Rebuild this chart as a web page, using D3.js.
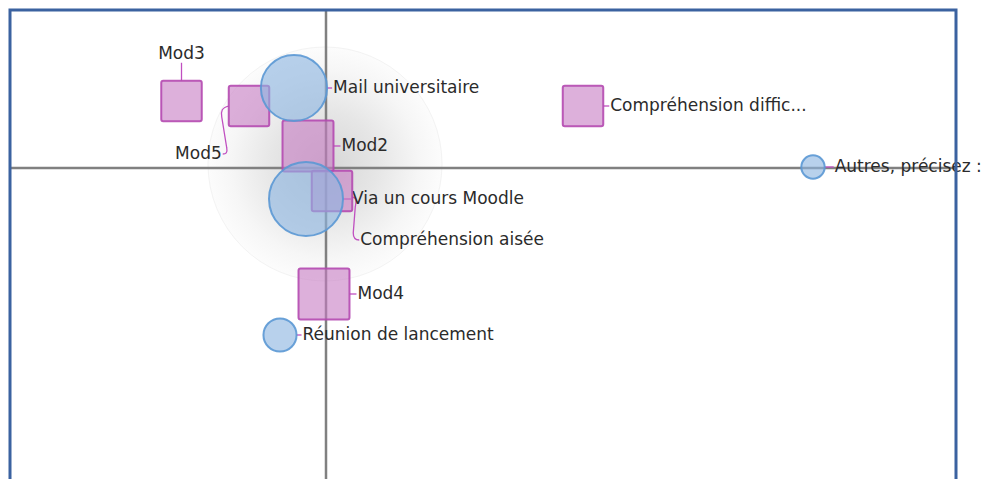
<!DOCTYPE html>
<html>
<head>
<meta charset="utf-8">
<script src="https://cdn.jsdelivr.net/npm/d3@7"></script>
<style>
  html, body { margin: 0; padding: 0; background: #ffffff; }
  svg { display: block; }
</style>
</head>
<body>
<svg id="chart" width="984" height="479"></svg>
<script>
// ---------- DATA ----------
// Row points (channels) drawn as circles
const rowLabels  = ["Mail universitaire", "Via un cours Moodle", "Réunion de lancement", "Autres, précisez :"];
const rowX       = [-0.16, -0.10, -0.23, 2.435];
const rowY       = [0.40, -0.155, -0.835, 0.005];
const rowWeights = [16, 20, 4, 2];

// Column points (modules / comprehension) drawn as squares
const colLabels  = ["Mod3", "Mod5", "Mod2", "Compréhension aisée", "Mod4", "Compréhension diffic..."];
const colX       = [-0.7225, -0.385, -0.09, 0.03, -0.01, 1.285];
const colY       = [0.335, 0.31, 0.11, -0.115, -0.63, 0.31];
const colWeights = [12, 12, 19, 12, 19, 12];

// Axis domains (factor units)
const xDomain = [-1.58, 3.15];
const yDomain = [-1.555, 0.79];

// ---------- LAYOUT / STYLE ----------
const W = 984, H = 479;
const plot = { left: 10, top: 10, right: 956, bottom: 479 };
const fontFamily = "'DejaVu Sans', Verdana, sans-serif";
const fontSize = 17;
const labelColor = "#2b2b2b";
const linkColor = "#c04fc0";

// label placement per label (layout, not data)
const placement = {
  "Mail universitaire": { side: "right", gap: 6 },
  "Via un cours Moodle": { side: "right", gap: 9 },
  "Réunion de lancement": { side: "right", gap: 6 },
  "Autres, précisez :": { side: "right", gap: 10 },
  "Mod3": { side: "top", gap: 18 },
  "Mod5": { side: "belowLeft" },
  "Mod2": { side: "right", gap: 8 },
  "Compréhension aisée": { side: "belowRight" },
  "Mod4": { side: "right", gap: 8 },
  "Compréhension diffic...": { side: "right", gap: 7 }
};

const svg = d3.select("#chart");

const x = d3.scaleLinear().domain(xDomain).range([plot.left, plot.right]);
const y = d3.scaleLinear().domain(yDomain).range([plot.bottom, plot.top]);
const rScale = d3.scaleSqrt().domain([0, 20]).range([0, 37]);
const sScale = d3.scaleSqrt().domain([0, 12]).range([0, 40.5]);

const rows = rowLabels.map((l, i) => ({ label: l, cx: x(rowX[i]), cy: y(rowY[i]), r: rScale(rowWeights[i]), kind: "row" }));
const cols = colLabels.map((l, i) => ({ label: l, cx: x(colX[i]), cy: y(colY[i]), s: sScale(colWeights[i]), kind: "col" }));

// ---------- BACKGROUND GLOW ----------
const defs = svg.append("defs");
const grad = defs.append("radialGradient").attr("id", "glow");
grad.append("stop").attr("offset", "0%").attr("stop-color", "#d6d6d6");
grad.append("stop").attr("offset", "45%").attr("stop-color", "#e6e6e6");
grad.append("stop").attr("offset", "80%").attr("stop-color", "#f6f6f6");
grad.append("stop").attr("offset", "100%").attr("stop-color", "#fcfcfc");

svg.append("circle")
  .attr("cx", x(0) - 1).attr("cy", y(0) - 4)
  .attr("r", 117)
  .attr("fill", "url(#glow)")
  .attr("stroke", "#f3f3f3")
  .attr("stroke-width", 1);

// ---------- AXES (origin lines) ----------
svg.append("line")
  .attr("x1", plot.left).attr("x2", plot.right)
  .attr("y1", y(0)).attr("y2", y(0))
  .attr("stroke", "#808080").attr("stroke-width", 2.5);
svg.append("line")
  .attr("x1", x(0)).attr("x2", x(0))
  .attr("y1", plot.top).attr("y2", plot.bottom)
  .attr("stroke", "#808080").attr("stroke-width", 2.5);

// ---------- CONNECTORS + LABELS ----------
const linkG = svg.append("g");
const labelG = svg.append("g")
  .attr("font-family", fontFamily)
  .attr("font-size", fontSize)
  .attr("fill", labelColor);

function half(d) { return d.kind === "row" ? d.r : d.s / 2; }

[...rows, ...cols].forEach(d => {
  const p = placement[d.label];
  const h = half(d);
  if (p.side === "right") {
    const x0 = d.cx + h;
    linkG.append("line")
      .attr("x1", x0).attr("x2", x0 + p.gap - 1)
      .attr("y1", d.cy).attr("y2", d.cy)
      .attr("stroke", linkColor).attr("stroke-width", 1.3);
    labelG.append("text")
      .attr("x", x0 + p.gap).attr("y", d.cy)
      .attr("dominant-baseline", "middle")
      .text(d.label);
  } else if (p.side === "top") {
    const y0 = d.cy - h;
    linkG.append("line")
      .attr("x1", d.cx).attr("x2", d.cx)
      .attr("y1", y0).attr("y2", y0 - p.gap)
      .attr("stroke", linkColor).attr("stroke-width", 1.3);
    labelG.append("text")
      .attr("x", d.cx).attr("y", y0 - p.gap - 9)
      .attr("text-anchor", "middle")
      .attr("dominant-baseline", "middle")
      .text(d.label);
  } else if (p.side === "belowLeft") {
    const x0 = d.cx - h, y0 = d.cy;
    const path = d3.path();
    path.moveTo(x0, y0);
    path.bezierCurveTo(x0 - 7, y0 + 2, x0 - 8, y0 + 5, x0 - 7, y0 + 11);
    path.lineTo(x0 - 2, y0 + 42);
    path.bezierCurveTo(x0 - 1, y0 + 47, x0 - 3, y0 + 48, x0 - 6, y0 + 48);
    linkG.append("path").attr("d", path.toString())
      .attr("fill", "none").attr("stroke", linkColor).attr("stroke-width", 1.3);
    labelG.append("text")
      .attr("x", x0 - 7).attr("y", y0 + 48)
      .attr("text-anchor", "end")
      .attr("dominant-baseline", "middle")
      .text(d.label);
  } else if (p.side === "belowRight") {
    const x0 = d.cx + h, y0 = d.cy + 6;
    const path = d3.path();
    path.moveTo(x0, y0);
    path.bezierCurveTo(x0 + 5, y0 + 1, x0 + 4, y0 + 4, x0 + 3, y0 + 10);
    path.lineTo(x0 + 1, y0 + 36);
    path.bezierCurveTo(x0 + 1, y0 + 41, x0 + 4, y0 + 43, x0 + 7, y0 + 43);
    linkG.append("path").attr("d", path.toString())
      .attr("fill", "none").attr("stroke", linkColor).attr("stroke-width", 1.3);
    labelG.append("text")
      .attr("x", x0 + 8).attr("y", y0 + 43)
      .attr("dominant-baseline", "middle")
      .text(d.label);
  }
});

// ---------- MARKS ----------
const markG = svg.append("g");
markG.selectAll("rect.col").data(cols).join("rect")
  .attr("class", "col")
  .attr("x", d => d.cx - d.s / 2)
  .attr("y", d => d.cy - d.s / 2)
  .attr("width", d => d.s)
  .attr("height", d => d.s)
  .attr("rx", 2).attr("ry", 2)
  .attr("fill", "#c77bc3").attr("fill-opacity", 0.6)
  .attr("stroke", "#b449b0").attr("stroke-width", 2).attr("stroke-opacity", 0.9);

markG.selectAll("circle.row").data(rows).join("circle")
  .attr("class", "row")
  .attr("cx", d => d.cx).attr("cy", d => d.cy).attr("r", d => d.r)
  .attr("fill", "#8db4e0").attr("fill-opacity", 0.62)
  .attr("stroke", "#5b98d4").attr("stroke-width", 2).attr("stroke-opacity", 0.9);

// ---------- FRAME ----------
svg.append("path")
  .attr("d", `M${plot.left},${plot.bottom + 5} V${plot.top} H${plot.right} V${plot.bottom + 5}`)
  .attr("fill", "none")
  .attr("stroke", "#3b62a0")
  .attr("stroke-width", 3);
</script>
</body>
</html>
